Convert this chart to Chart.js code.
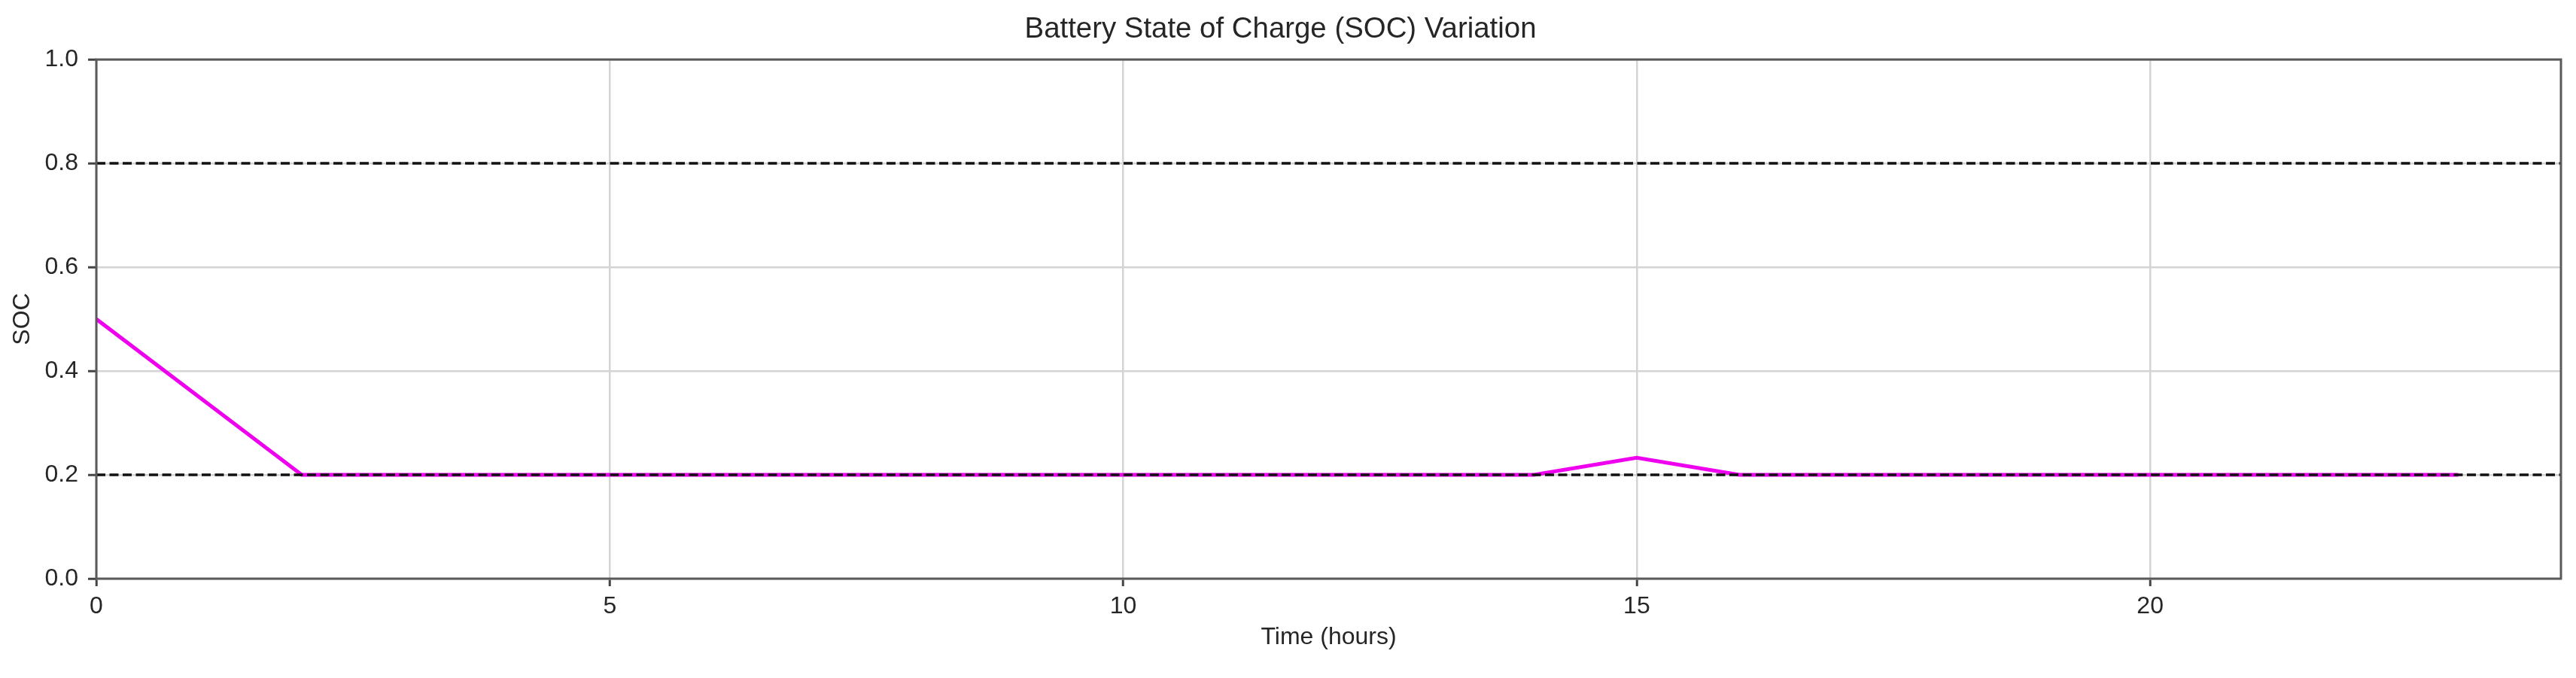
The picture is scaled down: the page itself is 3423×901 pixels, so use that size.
<!DOCTYPE html>
<html>
<head>
<meta charset="utf-8">
<title>Battery State of Charge (SOC) Variation</title>
<script src="https://cdn.jsdelivr.net/npm/chart.js@4.4.1/dist/chart.umd.min.js"></script>
<style>
  html, body { margin: 0; padding: 0; background: #fff; }
  canvas { display: block; }
</style>
</head>
<body>
<canvas id="socChart" width="3423" height="901"></canvas>
<script>
// hours of the day
var hours = [0, 1, 2, 3, 4, 5, 6, 7, 8, 9, 10, 11, 12, 13, 14, 15, 16, 17, 18, 19, 20, 21, 22, 23];
// state of charge
var soc = [0.5, 0.35, 0.2, 0.2, 0.2, 0.2, 0.2, 0.2, 0.2, 0.2, 0.2, 0.2, 0.2, 0.2, 0.2, 0.233, 0.2, 0.2, 0.2, 0.2, 0.2, 0.2, 0.2, 0.2];
// SOC limits (dashed lines)
var socLimits = [0.8, 0.2];
// axis ranges
var xRange = [0, 24];
var yRange = [0, 1];

var fontFamily = '"Liberation Sans", Arial, Helvetica, sans-serif';
var textColor = '#262626';

var limitSets = socLimits.map(function(v) {
  return {
    label: 'limit ' + v,
    data: [{x: xRange[0], y: v}, {x: xRange[1], y: v}],
    borderColor: '#111',
    borderWidth: 3.5,
    borderDash: [12, 5.5],
    pointRadius: 0,
    order: 0
  };
});

// frame around the plot area (matplotlib-like spines)
var framePlugin = {
  id: 'frame',
  afterDatasetsDraw: function(chart) {
    var a = chart.chartArea, ctx = chart.ctx;
    ctx.save();
    ctx.strokeStyle = '#5a5a5a';
    ctx.lineWidth = 3;
    ctx.strokeRect(a.left, a.top, a.right - a.left, a.bottom - a.top);
    ctx.restore();
  }
};

var ctx = document.getElementById('socChart').getContext('2d');
var socChart = new Chart(ctx, {
  type: 'line',
  data: {
    datasets: [{
      label: 'SOC',
      data: hours.map(function(h, i) { return {x: h, y: soc[i]}; }),
      borderColor: '#ee00ee',
      borderWidth: 5,
      pointRadius: 0,
      tension: 0,
      fill: false,
      order: 1
    }].concat(limitSets)
  },
  options: {
    responsive: false,
    animation: false,
    layout: {
      padding: {left: 0, right: 20, top: 0, bottom: 0}
    },
    scales: {
      x: {
        type: 'linear',
        min: xRange[0],
        max: xRange[1],
        afterFit: function(scale) { scale.height = 132; },
        ticks: {
          stepSize: 5,
          includeBounds: false,
          padding: 8,
          color: textColor,
          font: {family: fontFamily, size: 32}
        },
        grid: {
          color: '#d4d4d4',
          lineWidth: 2.5,
          tickColor: '#444',
          tickWidth: 3,
          tickLength: 10
        },
        border: {display: false},
        title: {
          display: true,
          text: 'Time (hours)',
          color: textColor,
          font: {family: fontFamily, size: 32},
          padding: {top: 0, bottom: 35}
        }
      },
      y: {
        min: yRange[0],
        max: yRange[1],
        afterFit: function(scale) { scale.width = 128; },
        ticks: {
          stepSize: 0.2,
          padding: 13,
          color: textColor,
          font: {family: fontFamily, size: 32},
          callback: function(v) { return Number(v).toFixed(1); }
        },
        grid: {
          color: '#d4d4d4',
          lineWidth: 2.5,
          tickColor: '#444',
          tickWidth: 3,
          tickLength: 11
        },
        border: {display: false},
        title: {
          display: true,
          text: 'SOC',
          color: textColor,
          font: {family: fontFamily, size: 32},
          padding: {top: 11, bottom: 0}
        }
      }
    },
    plugins: {
      legend: {display: false},
      tooltip: {enabled: false},
      title: {
        display: true,
        text: 'Battery State of Charge (SOC) Variation',
        color: textColor,
        font: {family: fontFamily, size: 38.4, weight: 'normal'},
        padding: {top: 16, bottom: 17}
      }
    }
  },
  plugins: [framePlugin]
});
</script>
</body>
</html>
